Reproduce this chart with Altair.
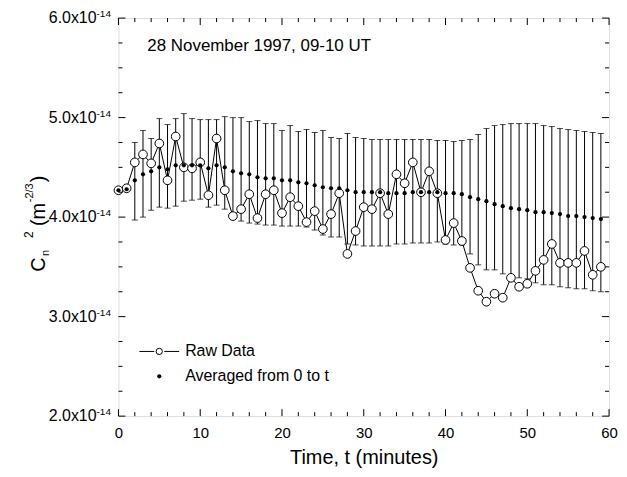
import altair as alt
import pandas as pd

# ---- data (values in units of 1e-14 m^-2/3) ----
t = list(range(60))
raw = [4.27, 4.29, 4.55, 4.63, 4.54, 4.74, 4.37, 4.81, 4.50, 4.49,
       4.55, 4.22, 4.79, 4.27, 4.01, 4.08, 4.23, 3.99, 4.23, 4.27,
       4.04, 4.20, 4.11, 3.95, 4.06, 3.88, 4.03, 4.24, 3.63, 3.86,
       4.10, 4.08, 4.24, 4.03, 4.43, 4.34, 4.55, 4.25, 4.46, 4.24,
       3.77, 3.94, 3.76, 3.49, 3.26, 3.15, 3.23, 3.19, 3.39, 3.30,
       3.33, 3.46, 3.57, 3.73, 3.54, 3.54, 3.54, 3.66, 3.42, 3.50]
avg = [4.27, 4.28, 4.37, 4.43, 4.46, 4.50, 4.48, 4.52, 4.52, 4.52,
       4.52, 4.49, 4.52, 4.50, 4.46, 4.44, 4.43, 4.40, 4.39, 4.39,
       4.37, 4.37, 4.35, 4.34, 4.32, 4.30, 4.29, 4.29, 4.27, 4.25,
       4.25, 4.25, 4.25, 4.24, 4.24, 4.24, 4.25, 4.25, 4.25, 4.25,
       4.24, 4.24, 4.23, 4.20, 4.18, 4.16, 4.13, 4.11, 4.09, 4.08,
       4.07, 4.05, 4.05, 4.04, 4.03, 4.01, 4.01, 4.00, 3.99, 3.98]
hi = [None, None, 4.75, 4.87, 4.79, 4.99, 4.93, 4.99, 5.04, 4.99,
      4.98, 4.98, 4.98, 5.01, 5.00, 5.00, 4.96, 4.97, 4.94, 4.94,
      4.87, 4.92, 4.86, 4.88, 4.85, 4.87, 4.80, 4.79, 4.84, 4.80,
      4.79, 4.78, 4.78, 4.78, 4.78, 4.78, 4.78, 4.78, 4.78, 4.77,
      4.77, 4.76, 4.77, 4.78, 4.83, 4.89, 4.92, 4.93, 4.94, 4.94,
      4.94, 4.94, 4.92, 4.91, 4.89, 4.88, 4.87, 4.86, 4.85, 4.84]
lo = [None, None, 3.97, 4.00, 4.07, 4.10, 4.09, 4.11, 4.16, 4.17,
      4.18, 4.10, 4.12, 4.08, 3.98, 3.96, 3.94, 3.93, 3.92, 3.92,
      3.91, 3.91, 3.91, 3.90, 3.87, 3.82, 3.80, 3.80, 3.73, 3.72,
      3.71, 3.71, 3.71, 3.71, 3.73, 3.73, 3.74, 3.74, 3.74, 3.75,
      3.73, 3.72, 3.72, 3.63, 3.52, 3.47, 3.47, 3.43, 3.40, 3.39,
      3.38, 3.34, 3.32, 3.32, 3.30, 3.29, 3.28, 3.28, 3.26, 3.25]

x_major = [0, 10, 20, 30, 40, 50, 60]
x_minor = [2, 4, 6, 8, 12, 14, 16, 18, 22, 24, 26, 28, 32, 34, 36, 38,
           42, 44, 46, 48, 52, 54, 56, 58]
y_major = [2, 3, 4, 5, 6]
y_major_labels = ["2.0x10", "3.0x10", "4.0x10", "5.0x10", "6.0x10"]
y_exp = "-14"
y_minor = [2.25, 2.5, 2.75, 3.25, 3.5, 3.75, 4.25, 4.5, 4.75, 5.25, 5.5, 5.75]

title_text = "28 November 1997, 09-10 UT"
legend_labels = ["Raw Data", "Averaged from 0 to t"]
x_title = "Time, t (minutes)"

FONT = "Liberation Sans"
W, H = 493, 400

df = pd.DataFrame({"t": t, "raw": raw, "avg": avg, "hi": hi, "lo": lo})
xs = alt.Scale(domain=[0, 60], nice=False, zero=False)
ys = alt.Scale(domain=[2, 6], nice=False, zero=False)
xaxis = alt.Axis(values=x_major, ticks=False, domain=False, grid=False,
                 labelFlush=False, labelFontSize=15, labelPadding=9, labelColor="black",
                 title=x_title, titleFontSize=20, titleFontWeight="normal",
                 titlePadding=8, titleColor="black", labelFont=FONT, titleFont=FONT)
X = alt.X("t:Q", scale=xs, axis=xaxis)

base = alt.Chart(df)
bars = base.mark_rule(color="black", strokeWidth=1).encode(
    x=X, y=alt.Y("lo:Q", scale=ys, axis=None), y2="hi:Q")
cap_hi = base.mark_tick(color="black", thickness=1, size=6, orient="horizontal").encode(
    x=X, y=alt.Y("hi:Q", scale=ys, axis=None))
cap_lo = base.mark_tick(color="black", thickness=1, size=6, orient="horizontal").encode(
    x=X, y=alt.Y("lo:Q", scale=ys, axis=None))
line = base.mark_line(color="black", strokeWidth=1).encode(
    x=X, y=alt.Y("raw:Q", scale=ys, axis=None))
circles = base.mark_point(shape="circle", size=76, filled=True, fill="white",
                          stroke="black", strokeWidth=1, opacity=1).encode(
    x=X, y=alt.Y("raw:Q", scale=ys, axis=None))
dots = base.mark_circle(color="black", size=18, opacity=1).encode(
    x=X, y=alt.Y("avg:Q", scale=ys, axis=None))

# ---- inward ticks on all four sides ----
def xticks(vals, length):
    d = alt.Chart(pd.DataFrame({"t": vals}))
    bottom = d.mark_rule(color="black", strokeWidth=1).encode(
        x=X, y=alt.value(H), y2=alt.value(H - length))
    top = d.mark_rule(color="black", strokeWidth=1).encode(
        x=X, y=alt.value(0), y2=alt.value(length))
    return [bottom, top]

def yticks(vals, length):
    d = alt.Chart(pd.DataFrame({"v": vals}))
    Y = alt.Y("v:Q", scale=ys, axis=None)
    left = d.mark_rule(color="black", strokeWidth=1).encode(
        y=Y, x=alt.value(0), x2=alt.value(length))
    right = d.mark_rule(color="black", strokeWidth=1).encode(
        y=Y, x=alt.value(W), x2=alt.value(W - length))
    return [left, right]

tick_layers = xticks(x_major, 7) + xticks(x_minor, 4) + yticks(y_major, 7) + yticks(y_minor, 4)

# ---- y tick labels with superscript exponent ----
ylab_df = pd.DataFrame({"v": y_major, "lab": y_major_labels, "exp": [y_exp] * len(y_major)})
ylab = alt.Chart(ylab_df).mark_text(align="right", baseline="middle", fontSize=16,
                                     font=FONT, color="black").encode(
    y=alt.Y("v:Q", scale=ys, axis=None), x=alt.value(-22), text="lab:N")
yexp = alt.Chart(ylab_df).mark_text(align="left", baseline="alphabetic", fontSize=10,
                                     font=FONT, color="black", dy=-1).encode(
    y=alt.Y("v:Q", scale=ys, axis=None), x=alt.value(-22), text="exp:N")

# ---- y axis title: C_n^2 (m^-2/3), rotated ----
one = alt.Chart(pd.DataFrame({"a": [0]}))
ytitle_parts = [("C", 20, 0, 0), ("n", 11, 16, 4), ("2", 12, 34, -12),
                ("(m", 20, 46, 0), ("-2/3", 11, 70, -12), (")", 20, 90, 0)]
ytitle_layers = []
for txt, fs, dx, dy in ytitle_parts:
    ytitle_layers.append(one.mark_text(text=txt, fontSize=fs, font=FONT, angle=270,
                                       align="left", baseline="alphabetic",
                                       dx=dx, dy=dy, color="black").encode(
        x=alt.value(45 - 119), y=alt.value(272 - 17)))

# ---- title text inside plot ----
title_layer = one.mark_text(text=title_text, fontSize=17, font=FONT, align="left",
                            baseline="middle", color="black").encode(
    x=alt.value(29), y=alt.value(28))

# ---- legend ----
leg_line1 = one.mark_rule(color="black", strokeWidth=1).encode(
    x=alt.value(21), x2=alt.value(36), y=alt.value(335))
leg_line2 = one.mark_rule(color="black", strokeWidth=1).encode(
    x=alt.value(46), x2=alt.value(61), y=alt.value(335))
leg_circ = one.mark_point(shape="circle", size=40, filled=True, fill="white",
                          stroke="black", strokeWidth=1, opacity=1).encode(
    x=alt.value(41), y=alt.value(335))
leg_dot = one.mark_circle(color="black", size=18, opacity=1).encode(
    x=alt.value(41), y=alt.value(360))
leg_t1 = one.mark_text(text=legend_labels[0], fontSize=16, font=FONT, align="left",
                       baseline="middle", color="black").encode(
    x=alt.value(67), y=alt.value(335))
leg_t2 = one.mark_text(text=legend_labels[1], fontSize=16, font=FONT, align="left",
                       baseline="middle", color="black").encode(
    x=alt.value(67), y=alt.value(360))

chart = alt.layer(
    bars, cap_hi, cap_lo, line, circles, dots,
    *tick_layers, ylab, yexp, *ytitle_layers, title_layer,
    leg_line1, leg_line2, leg_circ, leg_dot, leg_t1, leg_t2
).properties(
    width=W, height=H, autosize="none",
    padding={"left": 111, "top": 9, "right": 10, "bottom": 52}
).configure_view(stroke="black", strokeWidth=2).configure(font=FONT)

chart.save("out.html", embed_options={"renderer": "svg", "actions": False})
